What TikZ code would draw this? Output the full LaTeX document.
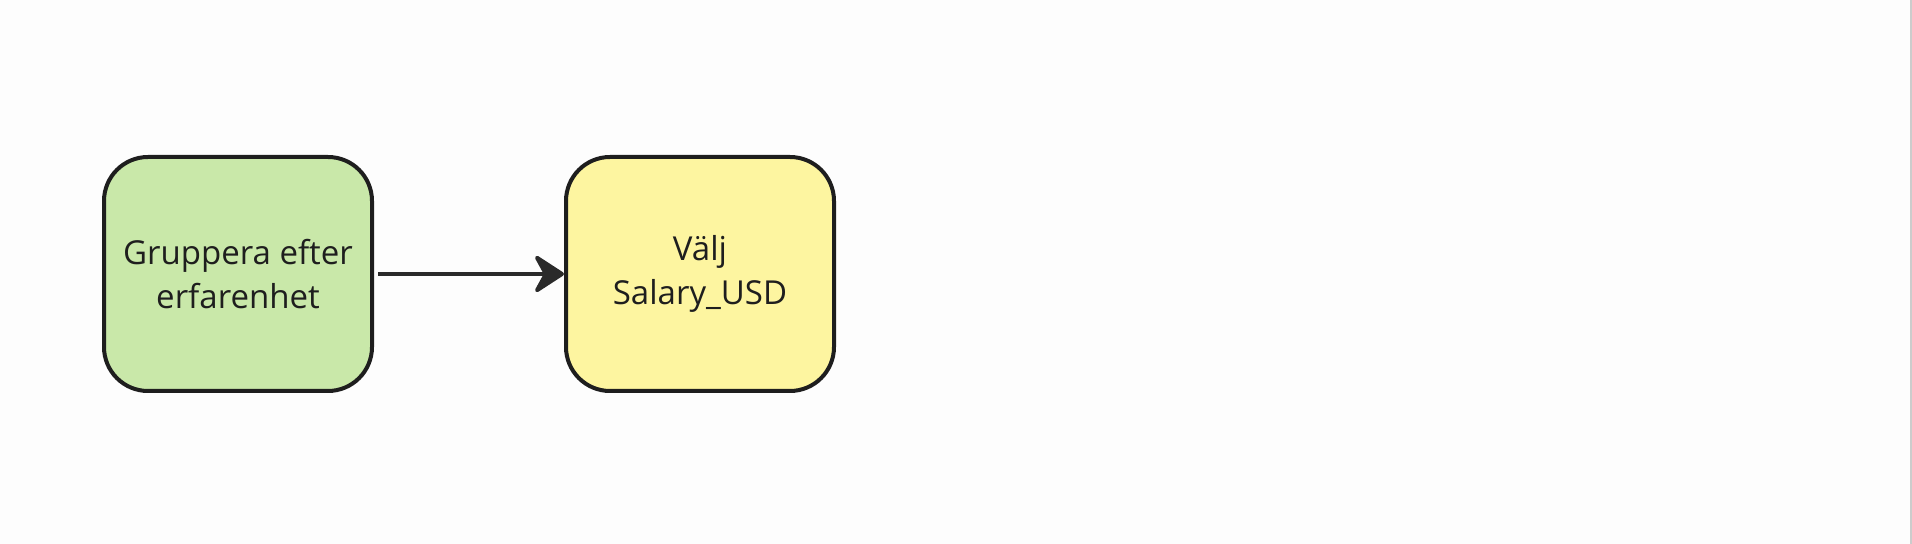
\documentclass[tikz,border=0pt]{standalone}
\usepackage{fontspec}
\setmainfont{Open Sans}
\usetikzlibrary{arrows.meta}
\definecolor{boxgreen}{HTML}{C9E8A9}
\definecolor{boxyellow}{HTML}{FDF5A0}
\definecolor{edge}{HTML}{1E1E1E}
\definecolor{arrowc}{HTML}{2A2A2A}
\definecolor{bg}{HTML}{FDFDFD}
\begin{document}
\begin{tikzpicture}[x=0.5pt,y=-0.5pt,
  procbox/.style={draw=edge, line width=2pt, rounded corners=22pt,
    minimum width=134pt, minimum height=117pt, align=center,
    font=\fontsize{16.5}{22}\selectfont, text=edge, inner sep=0pt},
  conn/.style={draw=arrowc, line width=2pt, -{Stealth[length=17pt,width=22pt,inset=6pt,line join=round]}}]
  \fill[bg] (0,0) rectangle (1912,544);
  \useasboundingbox (0,0) rectangle (1912,544);
  \draw[black!20, line width=1pt] (1910.5,0) -- (1910.5,544);
  \node[procbox, fill=boxgreen] (a) at (238,274) {Gruppera efter\\erfarenhet};
  \node[procbox, fill=boxyellow] (b) at (700,274) {Välj\\Salary\_USD};
  \draw[conn] ([xshift=2pt]a.east) -- (b.west);
\end{tikzpicture}
\end{document}
